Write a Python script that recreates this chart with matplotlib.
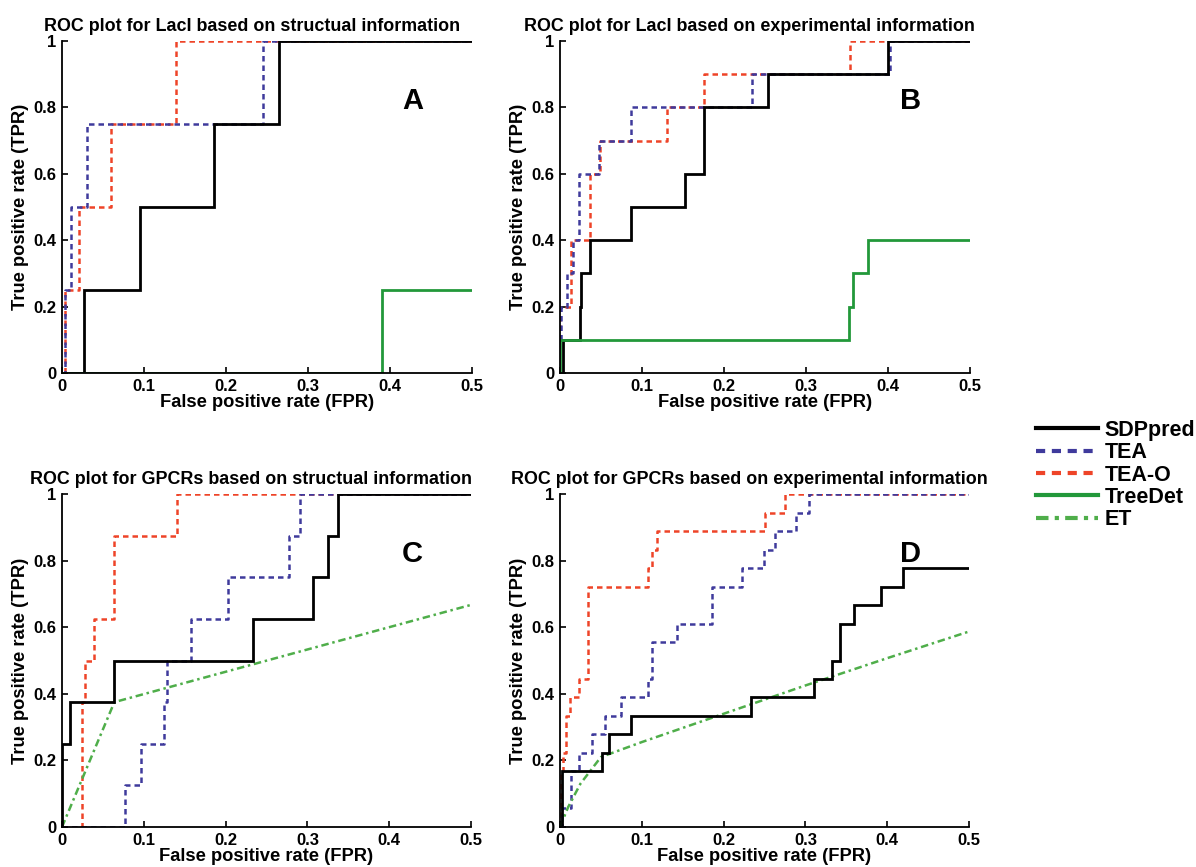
import matplotlib
matplotlib.use("Agg")
import matplotlib.pyplot as plt
from matplotlib.lines import Line2D

plt.rcParams['font.family'] = ['Liberation Sans', 'DejaVu Sans']
plt.rcParams['font.weight'] = 'bold'

# ---- Panel A: LacI, structural information ----
a_sdp_x = [0, 0.027, 0.027, 0.095, 0.095, 0.185, 0.185, 0.265, 0.265, 0.5]
a_sdp_y = [0, 0, 0.25, 0.25, 0.5, 0.5, 0.75, 0.75, 1.0, 1.0]
a_tea_x = [0, 0.004, 0.004, 0.011, 0.011, 0.031, 0.031, 0.245, 0.245, 0.5]
a_tea_y = [0, 0, 0.25, 0.25, 0.5, 0.5, 0.75, 0.75, 1.0, 1.0]
a_teao_x = [0.004, 0.004, 0.021, 0.021, 0.060, 0.060, 0.139, 0.139, 0.5]
a_teao_y = [0, 0.25, 0.25, 0.5, 0.5, 0.75, 0.75, 1.0, 1.0]
a_tree_x = [0, 0.390, 0.390, 0.5]
a_tree_y = [0, 0, 0.25, 0.25]

# ---- Panel B: LacI, experimental information ----
b_sdp_x = [0.004, 0.004, 0.024, 0.024, 0.026, 0.026, 0.036, 0.036, 0.087, 0.087,
           0.153, 0.153, 0.175, 0.175, 0.254, 0.254, 0.400, 0.400, 0.5]
b_sdp_y = [0, 0.1, 0.1, 0.2, 0.2, 0.3, 0.3, 0.4, 0.4, 0.5,
           0.5, 0.6, 0.6, 0.8, 0.8, 0.9, 0.9, 1.0, 1.0]
b_tea_x = [0.001, 0.001, 0.008, 0.008, 0.016, 0.016, 0.023, 0.023, 0.048, 0.048,
           0.087, 0.087, 0.234, 0.234, 0.402, 0.402, 0.5]
b_tea_y = [0.1, 0.2, 0.2, 0.3, 0.3, 0.4, 0.4, 0.6, 0.6, 0.7,
           0.7, 0.8, 0.8, 0.9, 0.9, 1.0, 1.0]
b_teao_x = [0, 0, 0.014, 0.014, 0.036, 0.036, 0.049, 0.049, 0.130, 0.130,
            0.176, 0.176, 0.354, 0.354, 0.5]
b_teao_y = [0.1, 0.2, 0.2, 0.4, 0.4, 0.6, 0.6, 0.7, 0.7, 0.8,
            0.8, 0.9, 0.9, 1.0, 1.0]
b_tree_x = [0, 0, 0.352, 0.352, 0.357, 0.357, 0.376, 0.376, 0.5]
b_tree_y = [0, 0.1, 0.1, 0.2, 0.2, 0.3, 0.3, 0.4, 0.4]

# ---- Panel C: GPCRs, structural information ----
c_sdp_x = [0, 0, 0.010, 0.010, 0.064, 0.064, 0.233, 0.233, 0.307, 0.307,
           0.325, 0.325, 0.337, 0.337, 0.5]
c_sdp_y = [0, 0.25, 0.25, 0.375, 0.375, 0.5, 0.5, 0.625, 0.625, 0.75,
           0.75, 0.875, 0.875, 1.0, 1.0]
c_tea_x = [0, 0.077, 0.077, 0.097, 0.097, 0.125, 0.125, 0.128, 0.128, 0.158,
           0.158, 0.203, 0.203, 0.277, 0.277, 0.291, 0.291, 0.5]
c_tea_y = [0, 0, 0.125, 0.125, 0.25, 0.25, 0.375, 0.375, 0.5, 0.5,
           0.625, 0.625, 0.75, 0.75, 0.875, 0.875, 1.0, 1.0]
c_teao_x = [0, 0.024, 0.024, 0.028, 0.028, 0.039, 0.039, 0.064, 0.064, 0.140, 0.140, 0.5]
c_teao_y = [0, 0, 0.375, 0.375, 0.5, 0.5, 0.625, 0.625, 0.875, 0.875, 1.0, 1.0]
c_et_x = [0, 0.064, 0.5]
c_et_y = [0, 0.375, 0.667]

# ---- Panel D: GPCRs, experimental information ----
d_sdp_x = [0.002, 0.002, 0.003, 0.003, 0.051, 0.051, 0.060, 0.060, 0.087, 0.087,
           0.234, 0.234, 0.311, 0.311, 0.332, 0.332, 0.342, 0.342, 0.360, 0.360,
           0.392, 0.392, 0.419, 0.419, 0.5]
d_sdp_y = [0, 0.111, 0.111, 0.167, 0.167, 0.222, 0.222, 0.278, 0.278, 0.333,
           0.333, 0.389, 0.389, 0.444, 0.444, 0.5, 0.5, 0.611, 0.611, 0.667,
           0.667, 0.722, 0.722, 0.778, 0.778]
d_tea_x = [0, 0.003, 0.003, 0.014, 0.014, 0.023, 0.023, 0.039, 0.039, 0.055,
           0.055, 0.075, 0.075, 0.107, 0.107, 0.112, 0.112, 0.143, 0.143, 0.186,
           0.186, 0.223, 0.223, 0.249, 0.249, 0.263, 0.263, 0.289, 0.289, 0.305,
           0.305, 0.5]
d_tea_y = [0, 0, 0.056, 0.056, 0.167, 0.167, 0.222, 0.222, 0.278, 0.278,
           0.333, 0.333, 0.389, 0.389, 0.444, 0.444, 0.556, 0.556, 0.611, 0.611,
           0.722, 0.722, 0.778, 0.778, 0.833, 0.833, 0.889, 0.889, 0.944, 0.944,
           1.0, 1.0]
d_teao_x = [0.001, 0.001, 0.004, 0.004, 0.007, 0.007, 0.012, 0.012, 0.023, 0.023,
            0.034, 0.034, 0.107, 0.107, 0.112, 0.112, 0.118, 0.118, 0.250, 0.250,
            0.275, 0.275, 0.5]
d_teao_y = [0, 0.167, 0.167, 0.222, 0.222, 0.333, 0.333, 0.389, 0.389, 0.444,
            0.444, 0.722, 0.722, 0.778, 0.778, 0.833, 0.833, 0.889, 0.889, 0.944,
            0.944, 1.0, 1.0]
d_et_x = [0, 0.01, 0.025, 0.05, 0.1, 0.2, 0.3, 0.4, 0.5]
d_et_y = [0, 0.06, 0.13, 0.21, 0.255, 0.34, 0.425, 0.507, 0.587]

panel_titles = [
    "ROC plot for LacI based on structual information",
    "ROC plot for LacI based on experimental information",
    "ROC plot for GPCRs based on structual information",
    "ROC plot for GPCRs based on experimental information",
]
panel_letters = ["A", "B", "C", "D"]
series_names = ["SDPpred", "TEA", "TEA-O", "TreeDet", "ET"]
x_ticks = [0, 0.1, 0.2, 0.3, 0.4, 0.5]
x_tick_labels = ["0", "0.1", "0.2", "0.3", "0.4", "0.5"]
y_ticks = [0, 0.2, 0.4, 0.6, 0.8, 1.0]
y_tick_labels = ["0", "0.2", "0.4", "0.6", "0.8", "1"]

styles = {
    "SDPpred": dict(color="black", lw=2.0, ls="-"),
    "TEA": dict(color="#3f3a9c", lw=1.8, ls=(0, (2.2, 1.6))),
    "TEA-O": dict(color="#ee4428", lw=1.8, ls=(0, (2.2, 1.6))),
    "TreeDet": dict(color="#22983a", lw=2.0, ls="-"),
    "ET": dict(color="#4fae4a", lw=1.8, ls=(0, (3.0, 1.5, 1.0, 1.5))),
}

# drawing order within each panel (later entries on top)
panels = [
    {"TEA-O": (a_teao_x, a_teao_y), "TEA": (a_tea_x, a_tea_y),
     "SDPpred": (a_sdp_x, a_sdp_y), "TreeDet": (a_tree_x, a_tree_y)},
    {"TEA-O": (b_teao_x, b_teao_y), "TEA": (b_tea_x, b_tea_y),
     "SDPpred": (b_sdp_x, b_sdp_y), "TreeDet": (b_tree_x, b_tree_y)},
    {"TEA-O": (c_teao_x, c_teao_y), "TEA": (c_tea_x, c_tea_y),
     "ET": (c_et_x, c_et_y), "SDPpred": (c_sdp_x, c_sdp_y)},
    {"TEA-O": (d_teao_x, d_teao_y), "TEA": (d_tea_x, d_tea_y),
     "ET": (d_et_x, d_et_y), "SDPpred": (d_sdp_x, d_sdp_y)},
]

W, H = 1196, 867
fig = plt.figure(figsize=(W / 100, H / 100), dpi=100)
boxes = [(62, 41, 410, 332), (560, 41, 410, 332),
         (62, 494, 409, 333), (560, 494, 409, 333)]

for i, (l, t, w, h) in enumerate(boxes):
    ax = fig.add_axes([l / W, 1 - (t + h) / H, w / W, h / H])
    for name, (xs, ys) in panels[i].items():
        ax.plot(xs, ys, solid_joinstyle="miter", dash_capstyle="butt",
                **styles[name])
    ax.set_xlim(0, 0.5)
    ax.set_ylim(0, 1)
    ax.set_xticks(x_ticks)
    ax.set_xticklabels(x_tick_labels)
    ax.set_yticks(y_ticks)
    ax.set_yticklabels(y_tick_labels)
    ax.tick_params(direction="in", length=4, width=1.2, labelsize=12)
    ax.tick_params(axis="x", pad=4)
    ax.tick_params(axis="y", pad=4)
    for lab in ax.get_xticklabels() + ax.get_yticklabels():
        lab.set_fontweight("bold")
    ax.spines["top"].set_visible(False)
    ax.spines["right"].set_visible(False)
    ax.spines["left"].set_linewidth(1.3)
    ax.spines["bottom"].set_linewidth(1.3)
    ax.set_title(panel_titles[i], fontsize=12.9, fontweight="bold", pad=7,
                 x=0.463)
    ax.set_xlabel("False positive rate (FPR)", fontsize=13.2, fontweight="bold",
                  labelpad=0)
    ax.set_ylabel("True positive rate (TPR)", fontsize=13.2, fontweight="bold",
                  labelpad=3)
    ax.text(0.428, 0.82, panel_letters[i], fontsize=21, fontweight="bold",
            ha="center", va="center")

handles = [Line2D([], [], **styles[n]) for n in series_names]
for hdl in handles:
    hdl.set_linewidth(3.0)
fig.legend(handles, series_names, loc="upper left",
           bbox_to_anchor=(1036 / W, 1 - 420 / H), frameon=False,
           prop={"weight": "bold", "size": 15.5}, handlelength=2.9,
           handletextpad=0.3, labelspacing=0.06, borderaxespad=0,
           borderpad=0)

fig.savefig("out.png", dpi=100)
